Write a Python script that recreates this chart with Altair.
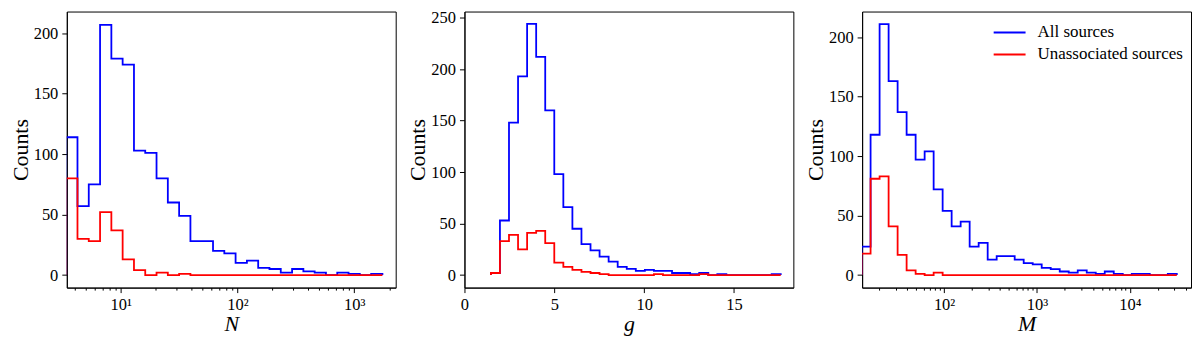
import altair as alt
import pandas as pd

SERIES = ["All sources", "Unassociated sources"]
COLORS = ["#0000ff", "#ff0000"]
FONT = "Liberation Serif"

# ---- Panel 1: N (log-spaced bins) ----
n_edges = [3.408, 4.259, 5.321, 6.650, 8.310, 10.38, 12.98, 16.21, 20.26, 25.32,
           31.64, 39.54, 49.40, 61.74, 77.14, 96.38, 120.5, 150.5, 188.0, 235.0,
           293.7, 367.0, 458.6, 573.0, 716.1, 894.8, 1118, 1398, 1746]
n_all = [114, 57, 75, 207, 179, 174, 103, 101, 80, 60, 49, 28, 28, 20, 18, 10,
         12, 6, 5, 2, 5, 3, 2, 0, 2, 1, 0, 1]
n_unassoc = [80, 30, 28, 52, 37, 13, 4, 0, 2, 0, 1, 0, 0, 0, 0, 0,
             0, 0, 0, 0, 0, 0, 0, 0, 0, 0, 0, 0]

# ---- Panel 2: g (linear bins) ----
g_edges = [1.47, 1.974, 2.478, 2.982, 3.486, 3.99, 4.494, 4.998, 5.502, 6.006,
           6.51, 7.014, 7.518, 8.022, 8.526, 9.03, 9.534, 10.038, 10.542, 11.046,
           11.55, 12.054, 12.558, 13.062, 13.566, 14.07, 14.574, 15.078, 15.582,
           16.086, 16.59, 17.094, 17.598]
g_all = [2, 53, 148, 193, 244, 212, 160, 98, 66, 45, 30, 24, 18, 13, 8, 6,
         4, 5, 4, 4, 2, 2, 1, 2, 0, 1, 0, 0, 0, 0, 0, 1]
g_unassoc = [2, 33, 39, 25, 41, 43, 31, 12, 8, 5, 3, 2, 1, 0, 0, 0,
             0, 0, 1, 0, 0, 0, 0, 1, 0, 0, 0, 0, 0, 0, 0, 0]

# ---- Panel 3: M (log-spaced bins) ----
m_edges = [12.93, 16.16, 20.21, 25.27, 31.59, 39.49, 49.38, 61.74, 77.18, 96.47,
           120.6, 150.8, 188.5, 235.7, 294.7, 368.4, 460.6, 575.8, 719.9, 900.1,
           1125, 1407, 1759, 2199, 2749, 3437, 4298, 5371, 6716, 8397,
           10498, 13125, 16409, 20512, 25645, 32063]
m_all = [24, 118, 211, 163, 137, 118, 97, 104, 72, 54, 41, 45, 24, 27, 13, 16,
         16, 13, 10, 9, 6, 5, 3, 2, 4, 2, 1, 3, 1, 0, 1, 1, 0, 0, 1]
m_unassoc = [18, 81, 83, 41, 17, 4, 1, 0, 2, 0, 0, 0, 0, 0, 0, 0,
             0, 0, 0, 0, 0, 0, 0, 0, 0, 0, 0, 0, 0, 0, 0, 0, 0, 0, 0]

N_MAJOR = [10, 100, 1000]
N_MINOR = [4, 5, 6, 7, 8, 9, 20, 30, 40, 50, 60, 70, 80, 90,
           200, 300, 400, 500, 600, 700, 800, 900, 2000]
M_MAJOR = [100, 1000, 10000]
M_MINOR = [20, 30, 40, 50, 60, 70, 80, 90, 200, 300, 400, 500, 600, 700, 800, 900,
           2000, 3000, 4000, 5000, 6000, 7000, 8000, 9000, 20000, 30000, 40000]
SUP = {10: "10¹", 100: "10²", 1000: "10³", 10000: "10⁴"}


def step_df(edges, counts, series):
    xs, ys = [edges[0]], [0]
    for k, c in enumerate(counts):
        xs += [edges[k], edges[k + 1]]
        ys += [c, c]
    xs.append(edges[-1])
    ys.append(0)
    return pd.DataFrame({"x": xs, "y": ys, "i": list(range(len(xs))), "series": series})


def hist_df(edges, all_c, un_c):
    return pd.concat([step_df(edges, all_c, SERIES[0]), step_df(edges, un_c, SERIES[1])],
                     ignore_index=True)


def log_axis(major, minor, title):
    vals = sorted(major + minor)
    test = "indexof([" + ",".join(str(v) for v in major) + "], datum.value) >= 0"
    expr = " : ".join(f"datum.value == {v} ? '{SUP[v]}'" for v in major) + " : ''"
    return alt.Axis(values=vals, title=title, labelExpr=expr, labelOverlap=False,
                    labelFlush=False, titleFontStyle="italic",
                    tickSize={"condition": {"test": test, "value": 5}, "value": 2.5})


def panel(df, xscale, xaxis, ydomain, yvals, legend):
    return alt.Chart(df).mark_line(strokeWidth=1.8, clip=True).encode(
        x=alt.X("x:Q", scale=xscale, axis=xaxis),
        y=alt.Y("y:Q", scale=alt.Scale(domain=ydomain, nice=False, zero=False),
                axis=alt.Axis(values=yvals, title="Counts")),
        color=alt.Color("series:N", scale=alt.Scale(domain=SERIES, range=COLORS),
                        legend=legend),
        order=alt.Order("i:Q"),
    ).properties(width=330, height=277)


p1 = panel(hist_df(n_edges, n_all, n_unassoc),
           alt.Scale(type="log", domain=[3.45, 2268], nice=False),
           log_axis(N_MAJOR, N_MINOR, "N"),
           [-10.4, 218], [0, 50, 100, 150, 200], None)

p2 = panel(hist_df(g_edges, g_all, g_unassoc),
           alt.Scale(domain=[0, 18.3], nice=False, zero=False),
           alt.Axis(values=[0, 5, 10, 15], title="g", titleFontStyle="italic",
                    labelFlush=False),
           [-12.2, 256], [0, 50, 100, 150, 200, 250], None)

p3 = panel(hist_df(m_edges, m_all, m_unassoc),
           alt.Scale(type="log", domain=[13.1, 45600], nice=False),
           log_axis(M_MAJOR, M_MINOR, "M"),
           [-10.55, 221.6], [0, 50, 100, 150, 200],
           alt.Legend(title=None, orient="none", legendX=131, legendY=12,
                      symbolType="stroke", symbolSize=1024, symbolStrokeWidth=2,
                      labelFont=FONT, labelFontSize=17, labelColor="black",
                      clipHeight=18, rowPadding=4, labelOffset=11))

chart = alt.hconcat(p1, p2, p3, spacing=69, bounds="flush").resolve_scale(
    color="independent", x="independent", y="independent"
).properties(
    padding={"left": 0, "top": 0, "right": 0, "bottom": 0}
).configure_axis(
    labelFont=FONT, labelFontSize=16.5, labelColor="black",
    titleFont=FONT, titleFontSize=22, titleFontWeight="normal", titleColor="black",
    domainColor="black", tickColor="black", grid=False, tickSize=5,
    labelPadding=4, zindex=1
).configure_axisX(titlePadding=1).configure_axisY(titlePadding=1).configure_view(
    stroke="black", strokeWidth=1)

chart.save("out.html", embed_options={"renderer": "svg", "actions": False})
